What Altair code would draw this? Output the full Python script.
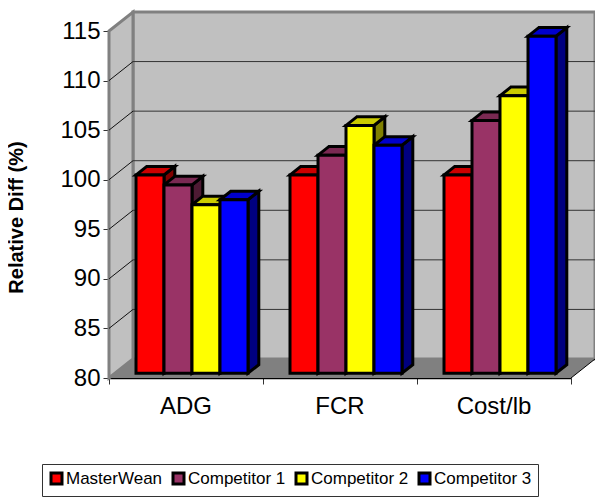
import altair as alt
import pandas as pd

categories = ["ADG", "FCR", "Cost/lb"]
series = ["MasterWean", "Competitor 1", "Competitor 2", "Competitor 3"]
values = {
    "MasterWean": [100, 100, 100],
    "Competitor 1": [99, 102, 105.5],
    "Competitor 2": [97, 105, 108],
    "Competitor 3": [97.5, 103, 114],
}
front_colors = ["#FF0000", "#993366", "#FFFF00", "#0000FF"]
top_colors = ["#CC0000", "#7A2952", "#CCCC00", "#0000CC"]
side_colors = ["#800000", "#4D1A33", "#808000", "#000080"]
y_ticks = [80, 85, 90, 95, 100, 105, 110, 115]

W, H = 462, 347
XMIN, XMAX, YMIN, YMAX = 0, 3, 80, 115
DX = 24 / 154          # chart depth in category units
DY = 19 * 35 / 347     # chart depth in value units
D0, D1 = 0.25, 0.70    # bar front and back, as fractions of the depth
GAP = 21 / 154
BAR = 28 / 154

xs = alt.Scale(domain=[XMIN, XMAX], nice=False, zero=False)
ys = alt.Scale(domain=[YMIN, YMAX], nice=False, zero=False)
X = lambda f: alt.X(f, type="quantitative", scale=xs)
Y = lambda f: alt.Y(f, type="quantitative", scale=ys, stack=None)

front, top, side = [], [], []
for c, cat in enumerate(categories):
    for s, name in enumerate(series):
        v = values[name][c]
        x0 = c + GAP + s * BAR + D0 * DX
        x1 = x0 + BAR
        b = YMIN + D0 * DY
        t = v + D0 * DY
        dx = (D1 - D0) * DX
        dy = (D1 - D0) * DY
        fid = f"{c}-{s}"
        front.append(dict(series=name, x=x0, x2=x1, y=t, y2=b))
        top.append(dict(series=name, id=fid, y=t, x=x0, x2=x1))
        top.append(dict(series=name, id=fid, y=t + dy, x=x0 + dx, x2=x1 + dx))
        side.append(dict(series=name, id=fid, x=x1, y=t, y2=b))
        side.append(dict(series=name, id=fid, x=x1 + dx, y=t + dy, y2=b + dy))

front_df, top_df, side_df = map(pd.DataFrame, (front, top, side))

back = (
    alt.Chart(pd.DataFrame([dict(x=DX, x2=XMAX + DX, y=YMIN + DY, y2=YMAX + DY)]))
    .mark_rect(fill="#C0C0C0", stroke="#808080", strokeWidth=3)
    .encode(
        x=alt.X("x:Q", scale=xs, axis=alt.Axis(
            values=[0, 1, 2, 3], labels=False, title=None, tickSize=6, tickColor="#333333",
            domainColor="#000000", domainWidth=1.5, grid=False, orient="bottom")),
        x2="x2:Q",
        y=alt.Y("y:Q", scale=ys, axis=alt.Axis(
            values=y_ticks, grid=False, title="Relative Diff (%)",
            titleFont="Liberation Sans", titleFontSize=20, titleFontWeight="bold",
            titleColor="#000000", titleX=-83, titleY=186,
            labelFont="Liberation Sans", labelFontSize=24, labelColor="#000000",
            labelPadding=3, tickSize=6, tickColor="#333333",
            domainColor="#333333", domainWidth=1.5)),
        y2="y2:Q",
    )
)
left_wall = (
    alt.Chart(pd.DataFrame([dict(x=0, y=YMIN, y2=YMAX), dict(x=DX, y=YMIN + DY, y2=YMAX + DY)]))
    .mark_area(fill="#C0C0C0", stroke="#808080", strokeWidth=3, orient="vertical")
    .encode(x=X("x"), y=Y("y"), y2="y2:Q")
)
floor = (
    alt.Chart(pd.DataFrame([dict(y=YMIN, x=0, x2=XMAX), dict(y=YMIN + DY, x=DX, x2=XMAX + DX)]))
    .mark_area(fill="#808080", orient="horizontal")
    .encode(y=Y("y"), x=X("x"), x2="x2:Q")
)
floor_edges = pd.DataFrame(
    [dict(id="r", x=XMAX, y=YMIN), dict(id="r", x=XMAX + DX, y=YMIN + DY)]
)
floor_edge = alt.Chart(floor_edges).mark_line(color="#000000", strokeWidth=1).encode(
    x=X("x"), y=Y("y"), detail="id:N"
)
grid_vals = [v for v in y_ticks if YMIN < v < YMAX]
back_grid = (
    alt.Chart(pd.DataFrame([dict(x=DX, x2=XMAX + DX, y=v + DY) for v in grid_vals]))
    .mark_rule(color="#333333", strokeWidth=1)
    .encode(x=X("x"), x2="x2:Q", y=Y("y"))
)
left_rows = []
for v in grid_vals:
    left_rows += [dict(id=v, x=0, y=v), dict(id=v, x=DX, y=v + DY)]
left_grid = (
    alt.Chart(pd.DataFrame(left_rows))
    .mark_line(color="#111111", strokeWidth=1)
    .encode(x=X("x"), y=Y("y"), detail="id:N")
)

side_layer = (
    alt.Chart(side_df)
    .mark_area(stroke="#000000", strokeWidth=3, orient="vertical", opacity=1)
    .encode(
        x=X("x"), y=Y("y"), y2="y2:Q", detail="id:N",
        fill=alt.Fill("series:N", scale=alt.Scale(domain=series, range=side_colors), legend=None),
    )
)
top_layer = (
    alt.Chart(top_df)
    .mark_area(stroke="#000000", strokeWidth=3, orient="horizontal", opacity=1)
    .encode(
        y=Y("y"), x=X("x"), x2="x2:Q", detail="id:N",
        fill=alt.Fill("series:N", scale=alt.Scale(domain=series, range=top_colors), legend=None),
    )
)
front_layer = (
    alt.Chart(front_df)
    .mark_rect(stroke="#000000", strokeWidth=3, opacity=1)
    .encode(
        x=X("x"), x2="x2:Q", y=Y("y"), y2="y2:Q",
        fill=alt.Fill(
            "series:N",
            scale=alt.Scale(domain=series, range=front_colors),
            legend=alt.Legend(
                orient="none", legendX=-67, legendY=433, direction="horizontal", columns=4,
                title=None, symbolType="square", symbolSize=121,
                symbolStrokeColor="#000000", symbolStrokeWidth=3, symbolOpacity=1,
                labelFont="Liberation Sans", labelFontSize=17, labelColor="#000000",
                labelOffset=1, columnPadding=4, padding=6,
                strokeColor="#333333", fillColor="#FFFFFF", labelLimit=200,
            ),
        ),
    )
)
cat_labels = (
    alt.Chart(pd.DataFrame([dict(x=i + 0.5, y=77.07, t=c) for i, c in enumerate(categories)]))
    .mark_text(font="Liberation Sans", fontSize=24, color="#000000", baseline="middle")
    .encode(x=X("x"), y=Y("y"), text="t:N")
)

chart = (
    alt.layer(back, left_wall, floor, floor_edge, back_grid, left_grid,
              side_layer, top_layer, front_layer, cat_labels)
    .resolve_scale(fill="independent")
    .properties(
        width=W, height=H, autosize=alt.AutoSizeParams(type="none"),
        padding={"left": 101, "top": 23, "right": 24, "bottom": 119},
        background="#FFFFFF",
    )
    .configure_view(stroke=None)
    .configure_axis(grid=False)
)
chart.save("out.html", embed_options={"renderer": "svg", "actions": False})
